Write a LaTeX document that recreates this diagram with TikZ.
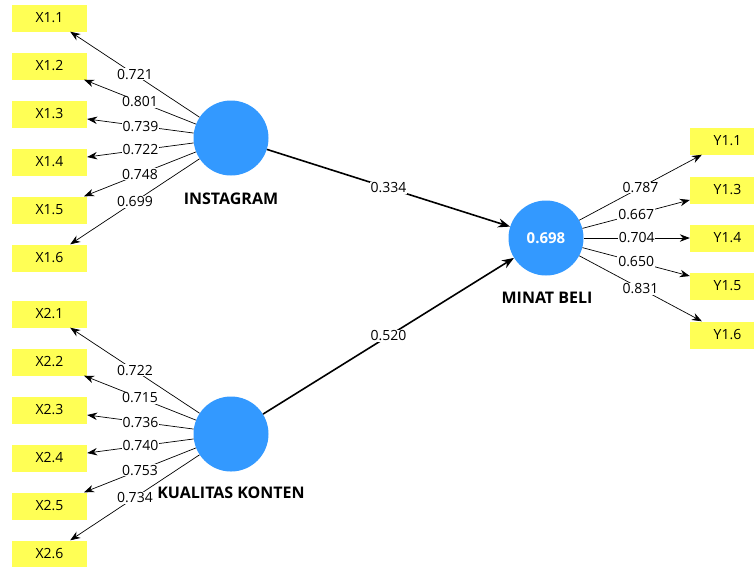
\documentclass[tikz,border=0pt]{standalone}
\usepackage{fontspec}
\setmainfont{Open Sans}
\usetikzlibrary{arrows.meta}
\usetikzlibrary{positioning}

\definecolor{indyellow}{RGB}{255,255,85}
\definecolor{latblue}{RGB}{51,153,255}

\tikzset{
  ind/.style={fill=indyellow, minimum width=75pt, minimum height=27pt, inner sep=0pt,
    font=\fontsize{14}{16}\selectfont},
  lat/.style={circle, fill=latblue, minimum size=75pt, inner sep=0pt, text=white,
    font=\bfseries\fontsize{15}{18}\selectfont},
  latname/.style={font=\bfseries\fontsize{16}{19}\selectfont},
  load/.style={->, line width=0.7pt},
  effect/.style={->, line width=1.6pt, >={Stealth[length=12pt,width=9pt]}},
  coef/.style={fill=white, inner sep=0.8pt, font=\fontsize{14}{16}\selectfont}
}

\begin{document}
\begin{tikzpicture}[x=1pt, y=-1pt, >={Stealth[length=10pt,width=7.5pt]}]
        \clip (0,0) rectangle (754,566);

        \node[lat] (insta) at (231,138) {};
        \node[latname] at (231,199) {INSTAGRAM};
        \node[lat] (konten) at (231,434) {};
        \node[latname] at (231,493) {KUALITAS KONTEN};
        \node[lat] (minat) at (546,238) {0.698};
        \node[latname] at (547,298) {MINAT BELI};

        \node[ind] (x11) at (49.5,18) {X1.1};
        \node[ind] (x12) at (49.5,66) {X1.2};
        \node[ind] (x13) at (49.5,114) {X1.3};
        \node[ind] (x14) at (49.5,162) {X1.4};
        \node[ind] (x15) at (49.5,210) {X1.5};
        \node[ind] (x16) at (49.5,258) {X1.6};

        \node[ind] (x21) at (49.5,314) {X2.1};
        \node[ind] (x22) at (49.5,362) {X2.2};
        \node[ind] (x23) at (49.5,410) {X2.3};
        \node[ind] (x24) at (49.5,458) {X2.4};
        \node[ind] (x25) at (49.5,506) {X2.5};
        \node[ind] (x26) at (49.5,554) {X2.6};

        \node[ind] (y11) at (727.5,141) {Y1.1};
        \node[ind] (y13) at (727.5,190) {Y1.3};
        \node[ind] (y14) at (727.5,238) {Y1.4};
        \node[ind] (y15) at (727.5,286) {Y1.5};
        \node[ind] (y16) at (727.5,335) {Y1.6};

        \draw[load] (insta) -- node[coef]{0.721} (x11);
        \draw[load] (insta) -- node[coef]{0.801} (x12);
        \draw[load] (insta) -- node[coef]{0.739} (x13);
        \draw[load] (insta) -- node[coef]{0.722} (x14);
        \draw[load] (insta) -- node[coef]{0.748} (x15);
        \draw[load] (insta) -- node[coef]{0.699} (x16);

        \draw[load] (konten) -- node[coef]{0.722} (x21);
        \draw[load] (konten) -- node[coef]{0.715} (x22);
        \draw[load] (konten) -- node[coef]{0.736} (x23);
        \draw[load] (konten) -- node[coef]{0.740} (x24);
        \draw[load] (konten) -- node[coef]{0.753} (x25);
        \draw[load] (konten) -- node[coef]{0.734} (x26);

        \draw[load] (minat) -- node[coef]{0.787} (y11);
        \draw[load] (minat) -- node[coef]{0.667} (y13);
        \draw[load] (minat) -- node[coef]{0.704} (y14);
        \draw[load] (minat) -- node[coef]{0.650} (y15);
        \draw[load] (minat) -- node[coef]{0.831} (y16);

        \draw[effect] (insta) -- node[coef]{0.334} (minat);
        \draw[effect] (konten) -- node[coef]{0.520} (minat);
\end{tikzpicture}
\end{document}
